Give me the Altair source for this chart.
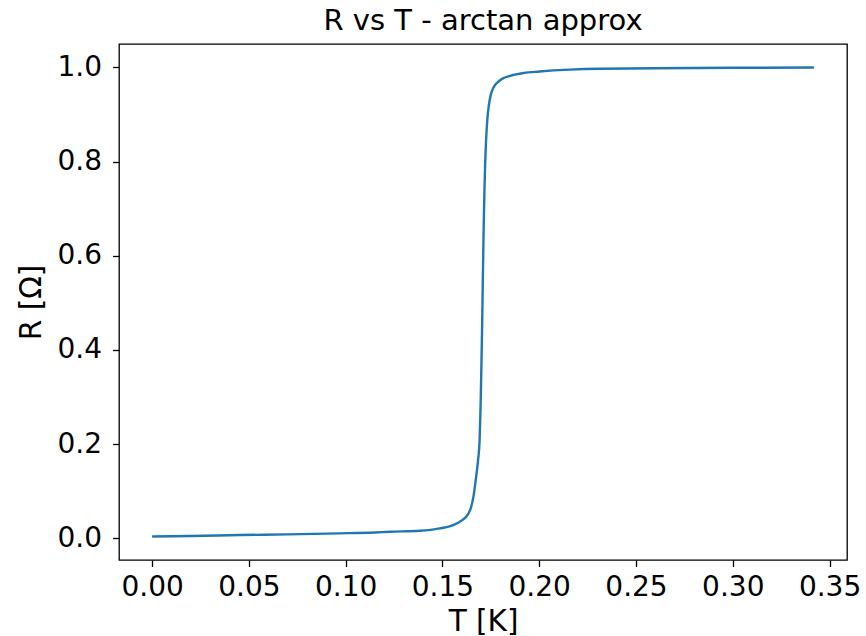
import altair as alt
import pandas as pd

# Values
T_K = [0.0, 0.02, 0.0455, 0.07, 0.097, 0.115, 0.123, 0.1383, 0.1486, 0.1555,
       0.1600, 0.1630, 0.1648, 0.1660, 0.1672, 0.1684, 0.1692, 0.1697, 0.1701,
       0.1705, 0.1709, 0.1713, 0.1717, 0.1721, 0.1726, 0.1732, 0.1740, 0.1750,
       0.1765, 0.1785, 0.1810, 0.1850, 0.1920, 0.2000, 0.2156, 0.231, 0.26,
       0.30, 0.3419]
R_OHM = [0.004, 0.005, 0.007, 0.0085, 0.0106, 0.0125, 0.014, 0.016, 0.021, 0.028,
         0.038, 0.050, 0.066, 0.088, 0.124, 0.166, 0.209, 0.28, 0.36,
         0.45, 0.56, 0.66, 0.74, 0.80, 0.85, 0.89, 0.92, 0.942,
         0.958, 0.968, 0.976, 0.982, 0.988, 0.991, 0.995, 0.997, 0.998,
         0.999, 0.9995]

x_ticks = [0.0, 0.05, 0.10, 0.15, 0.20, 0.25, 0.30, 0.35]
y_ticks = [0.0, 0.2, 0.4, 0.6, 0.8, 1.0]

df = pd.DataFrame({"T": T_K, "R": R_OHM})

FONT = "DejaVu Sans"

chart = alt.Chart(df).mark_line(
    color="#1f77b4", strokeWidth=2.4, interpolate="monotone"
).encode(
    x=alt.X("T:Q",
            scale=alt.Scale(domain=[-0.0171, 0.3590], nice=False, zero=False),
            axis=alt.Axis(title="T [K]", values=x_ticks, format=".2f",
                          titleBaseline="alphabetic", titleY=70, labelPadding=7)),
    y=alt.Y("R:Q",
            scale=alt.Scale(domain=[-0.046, 1.0495], nice=False, zero=False),
            axis=alt.Axis(title="R [Ω]", values=y_ticks, format=".1f",
                          titleBaseline="alphabetic", titleX=-79, titleAngle=-90,
                          labelPadding=11)),
).properties(
    width=728,
    height=516,
    padding={"left": 119, "top": 44, "right": 19, "bottom": 76},
    autosize=alt.AutoSizeParams(type="none"),
    background="white",
    title=alt.TitleParams("R vs T - arctan approx", fontSize=29, font=FONT,
                          fontWeight="normal", color="black",
                          baseline="alphabetic", offset=12, dy=27, frame="group",
                          anchor="middle"),
).configure_view(
    stroke="black", strokeWidth=1.3, fill="white"
).configure_axis(
    domain=False, grid=False,
    tickColor="black", tickSize=6.5, tickWidth=1.3,
    labelFont=FONT, labelFontSize=28, labelColor="black",
    titleFont=FONT, titleFontSize=29.5, titleFontWeight="normal", titleColor="black",
)

chart.save("out.html", embed_options={"renderer": "svg", "actions": False})
